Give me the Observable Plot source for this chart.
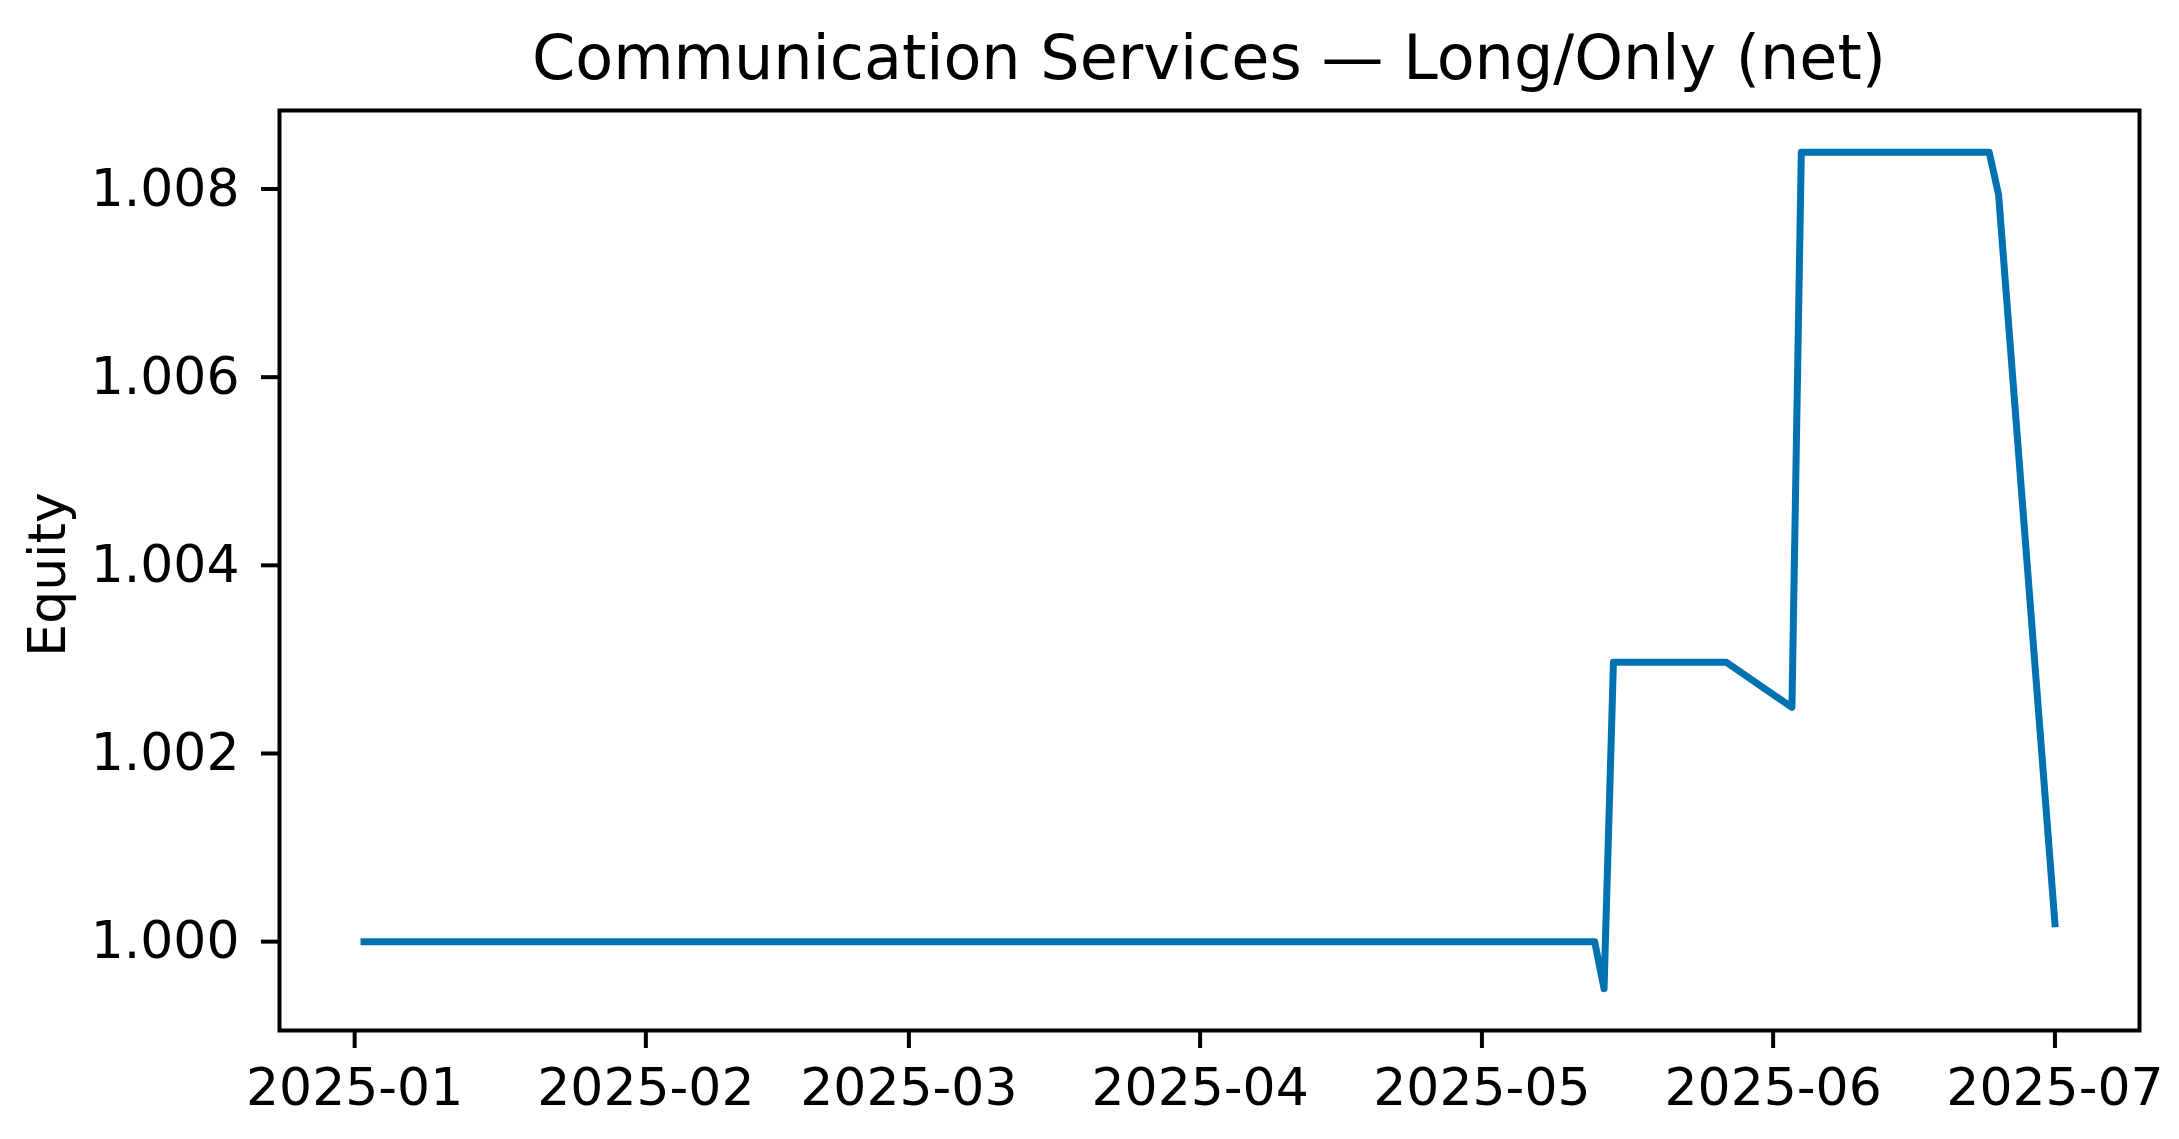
<!DOCTYPE html>
<html>
<head>
<meta charset="utf-8">
<script src="https://cdn.jsdelivr.net/npm/d3@7"></script>
<script src="https://cdn.jsdelivr.net/npm/@observablehq/plot@0.6"></script>
<style>
  html, body { margin: 0; padding: 0; background: #ffffff; }
  #wrap { width: 2179px; height: 1139px; position: relative; overflow: hidden; background: #fff; }
  #title {
    box-sizing: border-box;
    height: 100px;
    margin-left: 279px;
    width: 1860px;
    padding-top: 27px;
    font-family: "DejaVu Sans", sans-serif;
    font-size: 62px;
    line-height: 62px;
    text-align: center;
    color: #000;
    white-space: nowrap;
  }
  #chart svg { display: block; }
</style>
</head>
<body>
<div id="wrap">
  <div id="title">Communication Services — Long/Only (net)</div>
  <div id="chart"></div>
</div>
<script>
// ---- data ----
const dates  = ["2025-01-02","2025-05-13","2025-05-14","2025-05-15","2025-05-27",
                "2025-06-03","2025-06-04","2025-06-24","2025-06-25","2025-07-01"];
const equity = [1.00000, 1.00000, 0.99950, 1.00297, 1.00297,
                1.00249, 1.00839, 1.00839, 1.00794, 1.00019];
const xTickLabels = ["2025-01","2025-02","2025-03","2025-04","2025-05","2025-06","2025-07"];
const yTicks = [1.000, 1.002, 1.004, 1.006, 1.008];
const yLabel = "Equity";

// ---- build table ----
const data = dates.map((d, i) => ({date: new Date(d), value: equity[i]}));
const xTicks = xTickLabels.map(s => new Date(s + "-01"));

// matplotlib-style 5% margins
function pad(ext, frac) { const r = ext[1] - ext[0]; return [ext[0] - r * frac, ext[1] + r * frac]; }
const xExt = d3.extent(data, d => +d.date);
const xDom = pad(xExt, 0.05).map(v => new Date(v));
const yDom = pad(d3.extent(data, d => d.value), 0.05);

const chart = Plot.plot({
  width: 2179,
  height: 1039,
  marginTop: 10,
  marginBottom: 109,
  marginLeft: 279,
  marginRight: 40,
  style: {fontFamily: "DejaVu Sans, sans-serif", fontSize: "52px", color: "#000", background: "#fff", overflow: "visible"},
  x: {type: "utc", domain: xDom},
  y: {domain: yDom},
  marks: [
    Plot.line(data, {x: "date", y: "value", stroke: "#0072B2", strokeWidth: 7,
                     strokeLinecap: "square", strokeLinejoin: "round"}),
    Plot.frame({stroke: "#000", strokeWidth: 4}),
    Plot.axisX({ticks: xTicks, tickFormat: (d, i) => xTickLabels[i], tickSize: 18, tickPadding: 20,
                strokeWidth: 4, label: null, fontSize: 52}),
    Plot.axisY({ticks: yTicks, tickFormat: d3.format(".3f"), tickSize: 18, tickPadding: 22,
                strokeWidth: 4, label: null, fontSize: 52}),
    Plot.text([yLabel], {frameAnchor: "left", dx: -231, dy: 4, rotate: -90, fontSize: 52,
                         textAnchor: "middle", lineAnchor: "middle",
                         text: d => d, fill: "#000"})
  ]
});
document.getElementById("chart").appendChild(chart);
</script>
</body>
</html>
